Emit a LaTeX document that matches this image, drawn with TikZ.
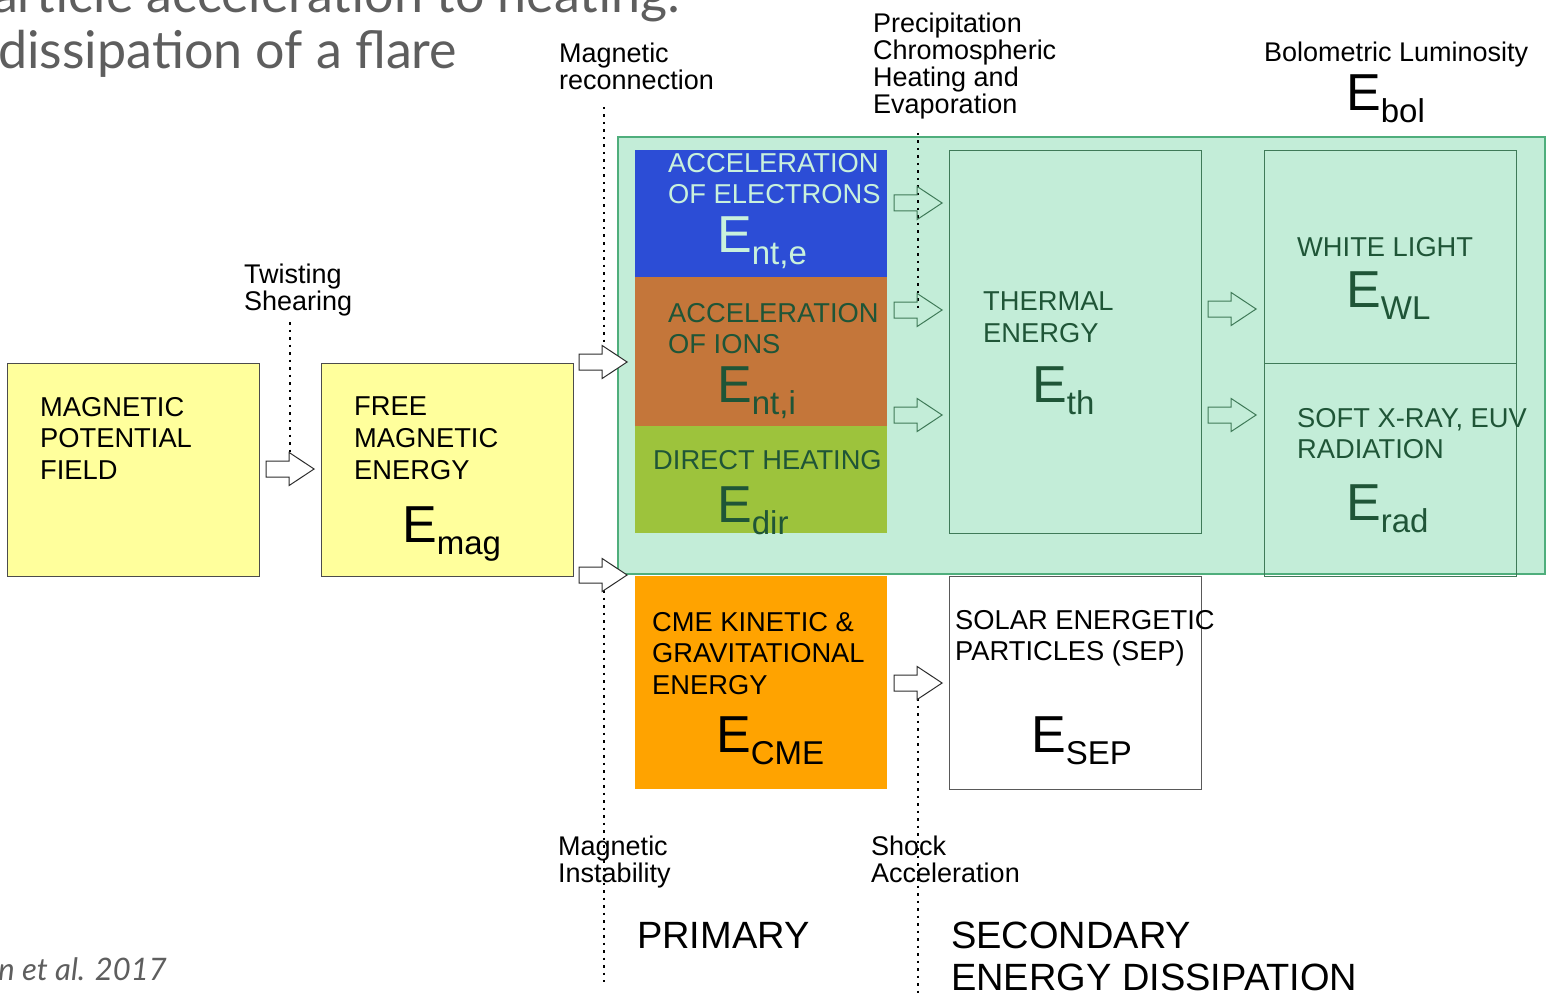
\documentclass[tikz,border=0pt]{standalone}
\usepackage{fontspec}
\setmainfont{Liberation Sans}
\newfontfamily\slidefont{Lato}
\usetikzlibrary{shapes.arrows}
\definecolor{regionfill}{HTML}{C3EDD8}
\definecolor{regionline}{HTML}{4FAE7C}
\definecolor{regiontext}{HTML}{1F5537}
\definecolor{regionedge}{HTML}{3F7A58}
\definecolor{electronblue}{HTML}{2C4DD6}
\definecolor{electrontext}{HTML}{C9F1DC}
\definecolor{ionbrown}{HTML}{C4763A}
\definecolor{heatgreen}{HTML}{9DC33C}
\definecolor{cmeorange}{HTML}{FFA300}
\definecolor{fieldyellow}{HTML}{FFFF9C}
\definecolor{slidegray}{HTML}{5E5E5E}
\newcommand\boxfont{\fontsize{27.3}{31.7}\selectfont}
\newcommand\notefont{\fontsize{27}{26.8}\selectfont}
\newcommand\energy[1]{{\fontsize{52}{52}\selectfont E}\raisebox{-12pt}{\fontsize{33}{33}\selectfont #1}}
\tikzset{
  flare box/.style={anchor=north west,inner sep=0pt,minimum width=252pt,minimum height=213pt},
  flare text/.style={anchor=north west,inner sep=0pt,align=left,font=\boxfont},
  flare note/.style={anchor=north west,inner sep=0pt,align=left,font=\notefont},
  flare energy/.style={anchor=north west,inner sep=0pt},
  flare arrow/.style={single arrow,anchor=tip,draw=gray!35!black,fill=white,line width=1pt,
    minimum height=48pt,inner xsep=0pt,inner ysep=7.5pt,single arrow head extend=8.5pt,
    single arrow head indent=0pt,single arrow tip angle=67},
  flare inner arrow/.style={flare arrow,draw=regionedge,fill=none},
  flare guide/.style={line width=1.1pt,dash pattern=on 2.5pt off 5pt}
}
\begin{document}
\begin{tikzpicture}[x=1pt,y=-1pt,font=\boxfont]
  \useasboundingbox (0,0) rectangle (1547,995);
  \clip (0,0) rectangle (1547,995);
  \fill[white] (0,0) rectangle (1547,995);
  \node[anchor=base east,inner sep=0pt,text=slidegray,font=\slidefont\fontsize{52}{52}\selectfont] (title1) at (681,13) {article acceleration to heating:};
  \node[anchor=base west,inner sep=0pt,text=slidegray,font=\slidefont\fontsize{52}{52}\selectfont] (title2) at (-2,69) {dissipation of a flare};
  \node[anchor=base east,inner sep=0pt,text=slidegray,font=\slidefont\itshape\fontsize{31}{31}\selectfont] (cite) at (167,980) {n et al. 2017};

  \node[flare box,minimum width=927pt,minimum height=437pt,fill=regionfill,draw=regionline,line width=2pt] (region) at (617,136) {};
  \node[flare box,fill=fieldyellow,draw=gray!60!black,line width=1.3pt] (field) at (7,363) {};
  \node[flare box,fill=fieldyellow,draw=gray!60!black,line width=1.3pt] (free) at (321,363) {};
  \node[flare box,minimum height=127pt,fill=electronblue] (elec) at (635,150) {};
  \node[flare box,minimum height=149pt,fill=ionbrown] (ions) at (635,277) {};
  \node[flare box,minimum height=107pt,fill=heatgreen] (direct) at (635,426) {};
  \node[flare box,minimum height=383pt,draw=regionedge,line width=1.3pt] (thermal) at (949,150) {};
  \node[flare box,draw=regionedge,line width=1.3pt] (light) at (1264,150) {};
  \node[flare box,draw=regionedge,line width=1.3pt] (rad) at (1264,363) {};
  \node[flare box,fill=cmeorange] (cme) at (635,576) {};
  \node[flare box,fill=white,draw=gray!70!black,line width=1.3pt] (sep) at (949,576) {};

  \foreach \x/\a/\b in {290/322/469,604/107/362,604/575/982,918/133/310,918/683/995}{
    \draw[flare guide] (\x,\a)--(\x,\b);
  }
  \foreach \x/\y/\i in {315/469/1,628/362/2,628/575/3,943/683/9}{
    \node[flare arrow] (arrow\i) at (\x,\y) {};
  }
  \foreach \x/\y/\i in {943/203/4,943/310/5,943/415/6,1257/309/7,1257/415/8}{
    \node[flare inner arrow] (arrow\i) at (\x,\y) {};
  }

  \node[flare note] (twist) at (244,264) {Twisting\\Shearing};
  \node[flare note] (recon) at (559,43) {Magnetic\\reconnection};
  \node[flare note] (precip) at (873,13) {Precipitation\\Chromospheric\\Heating and\\Evaporation};
  \node[flare note] (bolo) at (1264,42) {Bolometric Luminosity};
  \node[flare energy] (ebol) at (1346,75) {\energy{bol}};
  \node[flare note] (instab) at (558,836) {Magnetic\\Instability};
  \node[flare note] (shock) at (871,836) {Shock\\Acceleration};
  \node[flare note,font=\fontsize{38}{42}\selectfont] (primary) at (637,922) {PRIMARY};
  \node[flare note,font=\fontsize{38}{42}\selectfont] (secondary) at (951,922) {SECONDARY\\ENERGY DISSIPATION};

  \node[flare text] (field-text) at (40,397) {MAGNETIC\\POTENTIAL\\FIELD};
  \node[flare text] (free-text) at (354,397) {FREE\\MAGNETIC\\ENERGY};
  \node[flare energy] (emag) at (402,507) {\energy{mag}};
  \node[flare text,text=electrontext] (elec-text) at (668,153) {ACCELERATION\\OF ELECTRONS};
  \node[flare energy,text=electrontext] (ente) at (717,217) {\energy{nt,e}};
  \node[flare text,text=regiontext] (ions-text) at (668,303) {ACCELERATION\\OF IONS};
  \node[flare energy,text=regiontext] (enti) at (717,367) {\energy{nt,i}};
  \node[flare text,text=regiontext] (direct-text) at (653,450) {DIRECT HEATING};
  \node[flare energy,text=regiontext] (edir) at (717,487) {\energy{dir}};
  \node[flare text,text=regiontext] (thermal-text) at (983,292) {THERMAL\\ENERGY};
  \node[flare energy,text=regiontext] (eth) at (1032,367) {\energy{th}};
  \node[flare text,text=regiontext] (light-text) at (1297,237) {WHITE LIGHT};
  \node[flare energy,text=regiontext] (ewl) at (1346,272) {\energy{WL}};
  \node[flare text,text=regiontext] (rad-text) at (1297,408) {SOFT X-RAY, EUV\\RADIATION};
  \node[flare energy,text=regiontext] (erad) at (1346,485) {\energy{rad}};
  \node[flare text] (cme-text) at (652,612) {CME KINETIC \&\\GRAVITATIONAL\\ENERGY};
  \node[flare energy] (ecme) at (716,717) {\energy{CME}};
  \node[flare text] (sep-text) at (955,610) {SOLAR ENERGETIC\\PARTICLES (SEP)};
  \node[flare energy] (esep) at (1031,717) {\energy{SEP}};
\end{tikzpicture}
\end{document}
